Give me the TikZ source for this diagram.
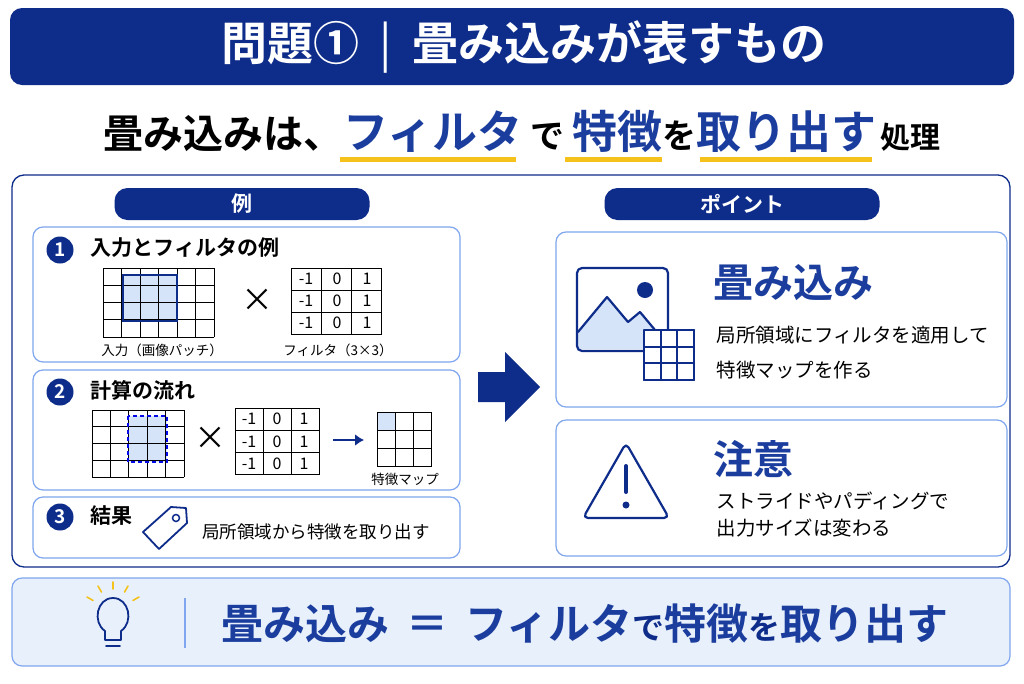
\documentclass[tikz,border=0pt]{standalone}
\usepackage{fontspec}
\setmainfont{Noto Sans CJK JP}[BoldFont={Noto Sans CJK JP Bold}]
\usetikzlibrary{positioning,arrows.meta,calc}
\definecolor{navy}{HTML}{0E2C8A}
\definecolor{txtblue}{HTML}{1B3E9E}
\definecolor{lineblue}{HTML}{7FA6EE}
\definecolor{paleblue}{HTML}{D6E4FA}
\definecolor{barblue}{HTML}{E8F0FC}
\definecolor{goldline}{HTML}{F4C21B}
\tikzset{
  panel/.style={draw=lineblue, line width=1.2pt, rounded corners=10pt, fill=white},
  pill/.style={fill=navy, rounded corners=13pt, text=white, font=\bfseries\fontsize{21}{21}\selectfont},
  num/.style={circle, fill=navy, text=white, inner sep=0pt, minimum size=27pt, font=\bfseries\fontsize{19}{19}\selectfont},
  head/.style={anchor=west, font=\bfseries\fontsize{21}{21}\selectfont},
  small/.style={font=\fontsize{13.5}{13.5}\selectfont},
  cell/.style={font=\fontsize{16}{16}\selectfont},
  body/.style={anchor=west, font=\fontsize{19.5}{19.5}\selectfont},
  icon/.style={draw=navy, line width=2.2pt, line join=round, line cap=round},
}
\begin{document}
\begin{tikzpicture}[x=1pt,y=-1pt]
    \useasboundingbox (0,0) rectangle (1024,683);
    \fill[white] (0,0) rectangle (1024,683);

    % Titel
    \fill[navy, rounded corners=12pt] (10,8) rectangle (1014,85);
    \node[text=white, font=\bfseries\fontsize{46}{46}\selectfont] (title) at (524,47) {問題①\hspace{0.45em}{\fontseries{m}\selectfont|}\hspace{0.45em}畳み込みが表すもの};

    % Untertitel mit Unterstreichungen
    \fill[goldline] (340,157) rectangle (516,162);
    \fill[goldline] (565,157) rectangle (662,162);
    \fill[goldline] (700,157) rectangle (872,162);
    \node[font=\bfseries\fontsize{40}{40}\selectfont] (sub) at (522,131)
      {畳み込みは、\textcolor{txtblue}{\fontsize{45}{45}\selectfont フィルタ}\hspace{0.2em}{\fontsize{34}{34}\selectfont で}\hspace{0.2em}\textcolor{txtblue}{\fontsize{45}{45}\selectfont 特徴}{\fontsize{34}{34}\selectfont を}\textcolor{txtblue}{\fontsize{45}{45}\selectfont 取り出す}\hspace{0.1em}{\fontsize{30}{30}\selectfont 処理}};

    % Rahmen
    \draw[navy, line width=1.3pt, rounded corners=12pt] (12,175) rectangle (1010,567);
    \node[pill, minimum width=255pt, minimum height=32pt] (ex) at (242,204) {例};
    \node[pill, minimum width=275pt, minimum height=32pt] (pt) at (742,204) {ポイント};

    % Feld 1
    \draw[panel] (33,227) rectangle (460,362);
    \node[num] (n1) at (60,250) {1};
    \node[head] at (87,248) {入力とフィルタの例};
    \fill[paleblue] (123,275) rectangle (177,321);
    \foreach \i in {0,...,6} \draw[line width=1pt] (103+\i*18.5,268) -- (103+\i*18.5,337);
    \foreach \j in {0,...,4} \draw[line width=1pt] (103,268+\j*17.25) -- (214,268+\j*17.25);
    \draw[navy, line width=1.2pt] (123,275) rectangle (177,321);
    \node[font=\fontsize{32}{32}\selectfont] (x1) at (257,300) {×};
    \foreach \i in {0,1,2,3} {
        \draw[line width=1pt] (291+\i*30.3,268) -- (291+\i*30.3,334);
        \draw[line width=1pt] (291,268+\i*22) -- (382,268+\i*22);
    }
    \foreach \j in {0,1,2} {
        \node[cell] at (306,279+\j*22) {-1};
        \node[cell] at (337,279+\j*22) {0};
        \node[cell] at (367,279+\j*22) {1};
    }
    \node[small] at (162,350) {入力（画像パッチ）};
    \node[small] at (338,350) {フィルタ（3×3）};

    % Feld 2
    \draw[panel] (33,370) rectangle (460,490);
    \node[num] (n2) at (60,392) {2};
    \node[head] at (87,390) {計算の流れ};
    \fill[paleblue] (128,416) rectangle (167,462);
    \foreach \i in {0,...,5} \draw[line width=1pt] (92+\i*18.4,410) -- (92+\i*18.4,477);
    \foreach \j in {0,...,4} \draw[line width=1pt] (92,410+\j*16.75) -- (184,410+\j*16.75);
    \draw[blue!80!navy, line width=2pt, dash pattern=on 4pt off 3pt] (128,416) rectangle (167,462);
    \node[font=\fontsize{32}{32}\selectfont] (x2) at (210,438) {×};
    \foreach \i in {0,1,2,3} {
        \draw[line width=1pt] (235+\i*28,408) -- (235+\i*28,475);
        \draw[line width=1pt] (235,408+\i*22.3) -- (319,408+\i*22.3);
    }
    \foreach \j in {0,1,2} {
        \node[cell] at (249,419+\j*22.3) {-1};
        \node[cell] at (277,419+\j*22.3) {0};
        \node[cell] at (304,419+\j*22.3) {1};
    }
    \coordinate (filt) at (333,440);
    \coordinate (fmap) at (364,440);
    \draw[navy, line width=2.8pt, -{Latex[length=9pt,width=12pt]}] (filt) -- (fmap);
    \fill[paleblue] (377,412) rectangle (395,430);
    \foreach \i in {0,1,2,3} {
        \draw[line width=1pt] (377+\i*18,412) -- (377+\i*18,467);
        \draw[line width=1pt] (377,412+\i*18.3) -- (431,412+\i*18.3);
    }
    \node[small] at (405,479) {特徴マップ};

    % Feld 3
    \draw[panel] (33,497) rectangle (460,558);
    \node[num] (n3) at (60,517) {3};
    \node[head] at (87,516) {結果};
    \draw[icon, line width=1.8pt] (143,532) -- (171,507) -- (186,508) -- (187,523) -- (159,549) -- cycle;
    \draw[navy, line width=1.5pt] (176,518) circle (3.5pt);
    \node[font=\fontsize{17.5}{17.5}\selectfont] at (316,532) {局所領域から特徴を取り出す};

    % Pfeil
    \fill[navy] (478,372) -- (505,372) -- (505,352) -- (540,387) -- (505,422) -- (505,402) -- (478,402) -- cycle;

    % Feld A
    \draw[panel] (556,232) rectangle (1007,407);
    \fill[paleblue] (578,332) -- (607,297) -- (628,322) -- (640,312) -- (655,330) -- (655,349) -- (578,349) -- cycle;
    \draw[icon, rounded corners=5pt] (577,268) rectangle (668,351);
    \draw[icon] (578,332) -- (607,297) -- (628,322) -- (640,312) -- (655,330);
    \fill[navy] (645,290) circle (8pt);
    \fill[white] (643,330) rectangle (695,380);
    \foreach \i in {0,1,2,3} {
        \draw[icon, line width=2pt] (644+\i*16.7,330) -- (644+\i*16.7,380);
        \draw[icon, line width=2pt] (644,330+\i*16.7) -- (694,330+\i*16.7);
    }
    \node[anchor=west, text=txtblue, font=\bfseries\fontsize{40}{40}\selectfont] (ta) at (710,283) {畳み込み};
    \node[body] at (713,335) {局所領域にフィルタを適用して};
    \node[body] at (713,370) {特徴マップを作る};

    % Feld B
    \draw[panel] (556,420) rectangle (1007,556);
    \draw[icon, rounded corners=5pt] (626,443) -- (669,518) -- (583,518) -- cycle;
    \draw[navy, line width=4pt, line cap=round] (626,466) -- (626,492);
    \fill[navy] (626,505) circle (3.5pt);
    \node[anchor=west, text=txtblue, font=\bfseries\fontsize{40}{40}\selectfont] (tb) at (710,459) {注意};
    \node[body] at (713,501) {ストライドやパディングで};
    \node[body] at (713,528) {出力サイズは変わる};

    % Fusszeile
    \draw[lineblue, fill=barblue, line width=1.2pt, rounded corners=10pt] (12,578) rectangle (1010,666);
    \draw[icon, line width=1.8pt] (105,640) -- (105,631) .. controls (92,622) and (97,598) .. (113,598) .. controls (129,598) and (134,622) .. (121,631) -- (121,640) -- cycle;
    \draw[icon, line width=1.8pt] (106,646) -- (120,646);
    \foreach \a in {30,60,90,120,150}
        \draw[goldline, line width=1.6pt, line cap=round] ($(113,612)+(\a:23pt)$) -- ($(113,612)+(\a:30pt)$);
    \draw[lineblue, line width=1.2pt] (185,598) -- (185,648);
    \node[text=txtblue, font=\bfseries\fontsize{42}{42}\selectfont] (foot) at (585,624)
      {畳み込み\hspace{0.4em}＝\hspace{0.4em}フィルタ{\fontsize{32}{32}\selectfont\color{navy}で}特徴{\fontsize{32}{32}\selectfont\color{navy}を}取り出す};
\end{tikzpicture}
\end{document}
